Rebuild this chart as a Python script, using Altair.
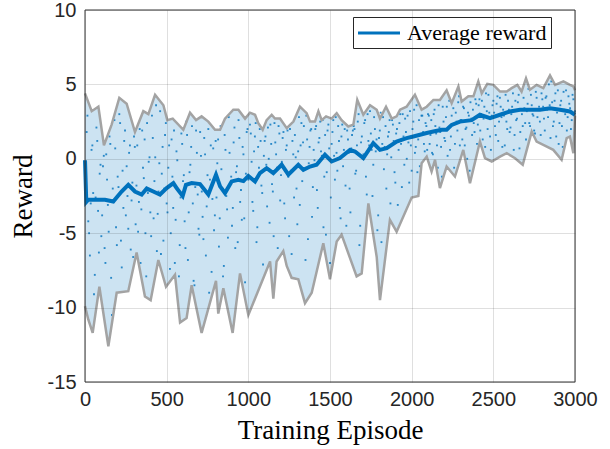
import altair as alt
import pandas as pd

# ---- data ----
upper_ep = [0, 41, 82, 116, 163, 210, 255, 306, 357, 388, 429, 480, 504, 537, 602, 643, 680, 714, 755, 796,
            827, 857, 908, 939, 980, 1010, 1041, 1061, 1088, 1112, 1143, 1163, 1194, 1235, 1276, 1316, 1357,
            1378, 1408, 1429, 1449, 1476, 1510, 1541, 1571, 1612, 1643, 1667, 1704, 1745, 1786, 1806, 1843,
            1878, 1908, 1929, 1969, 2020, 2061, 2092, 2133, 2173, 2214, 2245, 2286, 2306, 2347, 2378, 2408,
            2429, 2463, 2500, 2541, 2582, 2612, 2647, 2673, 2700, 2724, 2765, 2806, 2847, 2878, 2929, 2969,
            2990, 3000]
upper_val = [4.4, 3.2, 3.5, 0.9, 2.3, 4.1, 3.7, 1.8, 3.2, 3.0, 4.3, 3.6, 2.6, 2.7, 1.95, 3.1, 2.6, 2.85, 2.5, 1.95,
             1.95, 2.7, 3.3, 3.3, 2.7, 3.1, 2.96, 2.4, 1.95, 2.6, 2.96, 2.7, 2.7, 2.06, 2.5, 3.5, 3.07,
             2.5, 2.5, 3.2, 2.6, 2.85, 2.7, 3.07, 2.6, 2.17, 2.3, 3.96, 2.96, 3.6, 3.3, 2.7, 3.5,
             2.7, 2.85, 3.3, 3.5, 4.3, 3.3, 3.5, 3.96, 3.96, 4.6, 3.74, 4.86, 3.85, 4.2, 4.2, 5.2,
             4.4, 5.04, 4.97, 4.52, 4.52, 4.75, 4.97, 4.52, 5.4, 4.64, 4.97, 4.75, 5.6, 4.97, 5.2, 4.97,
             4.86, 4.6]

lower_ep = [0, 20, 47, 88, 143, 194, 265, 316, 367, 402, 449, 496, 551, 582, 622, 653, 714, 802, 816, 847,
            904, 949, 1000, 1133, 1153, 1173, 1214, 1235, 1265, 1306, 1347, 1388, 1459, 1500, 1541, 1571,
            1663, 1694, 1735, 1786, 1806, 1867, 1908, 2000, 2041, 2061, 2092, 2122, 2143, 2173, 2214, 2265,
            2316, 2357, 2418, 2449, 2490, 2541, 2582, 2633, 2680, 2735, 2765, 2806, 2867, 2918, 2949, 2969,
            2990, 3000]
lower_val = [-9.9, -10.8, -11.7, -8.6, -12.6, -9.0, -8.9, -6.3, -9.25, -9.5, -6.8, -8.6, -7.8, -11.0, -10.7, -8.5,
             -11.7, -8.2, -10.4, -8.7, -11.7, -7.7, -10.5, -6.9, -9.4, -6.9, -6.2, -7.2, -8.0, -8.1, -9.7, -9.0,
             -5.67, -8.1, -5.56, -5.1, -7.9, -7.7, -3.0, -6.6, -9.5, -4.1, -4.9, -2.6, -2.5, -0.29, 0.15, -0.85,
             -0.07, -1.97, -0.52, -1.19, 0.6, -1.64, 1.16, 0.04, -0.18, 0.15, 0.38, 0.04, -0.4, 1.83, 1.16, 0.94,
             0.6, -0.07, 1.39, 1.5, 0.38, 2.9]

mean_ep = [0, 8, 20, 71, 122, 173, 224, 265, 306, 347, 378, 418, 459, 500, 541, 561, 598, 618, 653, 704, 755,
           802, 827, 857, 898, 939, 970, 1000, 1041, 1071, 1112, 1153, 1204, 1245, 1306, 1337, 1378, 1418, 1469,
           1510, 1561, 1622, 1653, 1704, 1765, 1806, 1847, 1908, 1969, 2010, 2092, 2133, 2184, 2214, 2245, 2296,
           2367, 2418, 2480, 2541, 2602, 2663, 2724, 2786, 2847, 2908, 2969, 3000]
mean_val = [-0.1, -2.9, -2.75, -2.75, -2.75, -2.87, -2.2, -1.75, -2.2, -2.4, -2.0, -2.2, -2.4, -1.97, -1.63, -1.97,
            -2.5, -1.75, -1.63, -1.7, -2.4, -1.07, -1.85, -2.3, -1.52, -1.41, -1.5, -1.15, -1.52, -0.96, -0.63,
            -0.96, -0.4, -1.07, -0.4, -0.74, -0.52, -0.4, 0.27, -0.18, 0.05, 0.6, 0.49, 0.05, 1.05, 0.6, 0.72,
            1.16, 1.39, 1.5, 1.73, 1.83, 1.95, 1.95, 2.28, 2.5, 2.6, 2.96, 2.73, 2.96, 3.18, 3.3, 3.3, 3.3, 3.4,
            3.3, 3.18, 2.96]

# individual episode rewards (sampled, estimated): set A at episodes 10,20,...; set B at 5,15,...
dot_ep_a = list(range(10, 3001, 10))
dot_val_a = [
    1.8, -4.2, -6.5, 0.6, -2.3, -7.8, 2.1, -3.5, -1.0, -5.2,
    -0.5, -6.0, 0.3, -3.1, 1.5, -8.0, -2.0, 2.6, -4.6, -1.2,
    3.0, -5.5, -0.8, 1.2, -3.8, -2.5, 0.4, -6.1, -1.6, 1.5,
    -4.4, 0.9, -2.9, -7.0, 1.9, -1.3, -5.0, 2.4, -0.2, -3.6,
    2.9, -4.0, 0.1, -6.2, -2.2, 3.2, -1.0, -5.5, 1.6, -3.0,
    -0.6, -7.4, 1.3, -3.3, -7.0, 0.5, -2.0, -5.8, 1.7, -1.5,
    -4.2, 2.5, -6.8, -0.9, 0.8, -3.0, -8.5, 1.9, -2.4, -5.1,
    0.2, -3.9, 1.4, -6.5, -1.1, -9.0, 0.9, -2.7, -4.8, 1.2,
    -0.3, -5.9, 2.2, -2.0, -7.2, 0.6, -3.4, 2.8, -1.7, -4.5,
    1.1, -6.0, -0.5, 2.6, -2.9, -4.1, 0.3, -8.3, 1.8, -1.4,
    2.3, -0.2, -3.5, 1.5, -5.6, 0.8, 2.0, -1.8, -7.1, 1.2,
    -0.4, 2.1, -4.3, 1.0, -2.2, 2.4, 0.3, -6.0, 1.7, -1.1,
    1.4, -3.0, 0.6, 1.9, -5.2, -0.8, 1.2, -2.6, 0.1, -4.4,
    2.8, 0.9, -1.5, 2.2, -6.8, 1.3, -0.3, 1.9, -3.9, 0.6,
    2.0, -2.1, 1.1, 2.5, 0.2, -4.6, 1.6, -0.9, 2.3, -7.0,
    1.0, 2.6, -1.4, 0.4, 2.2, -3.3, 1.5, -0.5, 2.0, -4.5,
    1.3, -2.0, 0.7, 1.9, 2.0, -0.8, 2.5, -5.8, 1.1, 0.2,
    2.4, -1.2, 3.0, 0.9, 1.7, -2.5, 2.8, 0.5, -4.8, 1.4,
    3.1, 1.0, -0.7, 2.2, 0.3, 1.8, -3.0, 2.6, 1.2, -1.6,
    2.0, 0.6, 3.0, -1.9, 1.5, 2.7, 0.0, 1.1, 3.2, -0.8,
    2.5, 0.4, 3.6, 1.3, -0.5, 2.9, 1.8, 0.5, 2.2, 3.0,
    1.0, 2.6, 0.3, 3.3, 1.7, -0.6, 2.1, 0.8, 3.5, 1.4,
    2.8, 0.2, 3.9, 1.5, 2.3, -0.6, 3.1, 1.9, 4.2, 2.6,
    1.3, 3.4, 2.0, 0.0, 2.9, 3.8, 1.6, 2.4, 4.0, 1.0,
    3.6, 1.9, 3.9, 2.7, 0.8, 3.2, 4.3, 1.5, 2.9, 3.9,
    2.2, 3.7, 1.2, 4.1, 2.8, 3.3, 0.9, 2.5, 3.9, 1.8,
    3.0, 4.4, 1.6, 2.6, 3.8, 0.7, 4.6, 2.2, 3.4, 1.3,
    3.7, 2.4, 4.3, 3.0, 1.9, 4.5, 2.8, 3.5, 1.6, 4.0,
    2.7, 4.1, 3.3, 5.0, 1.4, 3.8, 2.5, 4.4, 3.1, 1.0,
    3.6, 2.2, 4.5, 3.0, 1.9, 4.2, 3.4, 2.6, 4.0, 3.2,
]
dot_ep_b = list(range(5, 3000, 10))
dot_val_b = [
    -1.8, 2.9, -5.0, -3.0, 0.9, -9.1, -2.6, 1.2, -6.3, -0.4,
    -3.8, 0.2, -7.0, -1.4, -4.9, 1.0, -10.5, -2.9, 0.7, -5.8,
    -1.9, 2.4, -7.3, -3.3, 1.9, -0.5, -4.7, 0.9, -2.8, -6.6,
    0.8, -1.8, -4.9, 2.0, -3.4, -0.6, 1.3, -7.9, -2.3, 0.1,
    -5.2, 1.4, -1.5, 3.6, -3.7, -0.3, -6.4, 0.8, -2.0, 2.4,
    -3.6, 0.9, -5.0, -1.2, 1.9, -4.1, -0.1, -7.9, -2.6, 1.0,
    -1.1, -6.0, 1.6, -3.6, -0.4, 2.2, -8.2, -1.9, 0.4, -4.7,
    1.8, -2.2, -5.4, 0.3, -3.2, 2.0, -1.4, -7.6, 0.7, -3.8,
    -2.6, 1.3, -4.0, -0.7, -7.9, 1.6, -2.5, -5.3, 0.4, -1.2,
    -3.3, 2.1, -0.9, -5.6, 1.4, -2.1, 0.8, -4.0, -1.0, 2.0,
    -1.3, 1.7, -2.9, 0.5, 2.4, -4.6, -0.6, 1.2, -2.3, 0.2,
    1.5, -3.2, 0.0, 2.3, -1.7, -5.2, 1.1, -0.6, 2.2, -2.8,
    -0.2, 1.8, -4.0, 0.9, -1.2, 2.0, -6.4, 0.3, 1.6, -2.0,
    0.5, -3.1, 2.4, 1.1, -0.7, 2.9, -5.4, 0.8, 2.0, -1.9,
    -0.1, 2.2, -3.3, 1.4, 0.5, 2.6, -1.2, -5.1, 1.9, 0.7,
    -2.6, 1.8, 0.2, 2.8, -0.8, 1.2, -4.0, 2.3, 0.6, -1.8,
    1.9, 0.4, -3.6, 1.6, 2.2, -1.0, 0.9, 3.0, -4.5, 1.5,
    0.3, 2.6, -2.4, 1.2, 3.2, 0.6, -0.4, 2.0, 1.3, -3.8,
    1.9, -5.6, 2.8, 0.8, -2.0, 1.5, 2.6, 0.1, 2.3, -0.9,
    1.7, -3.1, 2.4, 1.0, 3.0, -0.4, 1.8, 2.9, -1.6, 0.9,
    2.0, 3.3, 0.8, -0.9, 2.6, 1.6, 2.9, 1.0, 2.4, 0.6,
    2.9, 1.6, 0.4, 3.0, 2.2, 0.9, 3.6, 1.8, -1.2, 2.5,
    1.2, 3.5, 2.1, 0.6, 2.9, 3.4, 1.0, 2.5, 3.8, 0.9,
    2.6, 3.5, 0.9, 2.1, 3.1, -0.8, 2.7, 3.3, 1.8, 3.7,
    2.3, 4.0, 3.0, 1.3, 3.5, 4.4, 2.0, 3.1, 0.6, 3.6,
    3.1, 1.6, 4.2, 2.5, 3.5, 0.8, 2.9, 4.3, 2.0, 3.3,
    2.1, 3.5, 0.6, 3.9, 2.7, 4.3, 1.8, 3.0, 4.1, 2.4,
    3.2, 4.7, 2.2, 3.6, 2.9, 1.7, 4.1, 3.3, 2.5, 4.4,
    3.5, 1.9, 4.2, 2.8, 3.6, 5.2, 2.2, 3.9, 1.5, 4.6,
    2.4, 3.9, 0.8, 3.3, 4.6, 2.8, 3.7, 2.0, 4.3, 3.0,
]

x_ticks = [0, 500, 1000, 1500, 2000, 2500, 3000]
y_ticks = [-15, -10, -5, 0, 5, 10]
series_name = "Average reward"

upper_df = pd.DataFrame({"ep": upper_ep, "r": upper_val})
lower_df = pd.DataFrame({"ep": lower_ep, "r": lower_val})
mean_df = pd.DataFrame({"ep": mean_ep, "r": mean_val, "s": series_name})
dot_df = pd.DataFrame({"ep": dot_ep_a + dot_ep_b, "r": dot_val_a + dot_val_b})

W, H = 490, 372
xs = alt.Scale(domain=[0, 3000], nice=False)
ys = alt.Scale(domain=[-15, 10], nice=False)
X = alt.X("ep:Q", scale=xs,
          axis=alt.Axis(values=x_ticks, title="Training Episode", labelPadding=7, labelFlush=False,
                        labelExpr="toString(datum.value)", titlePadding=8, zindex=1))
Y = alt.Y("r:Q", scale=ys,
          axis=alt.Axis(values=y_ticks, title="Reward", labelPadding=9, titlePadding=10,
                        labelExpr="toString(datum.value)", zindex=1))

band_top = alt.Chart(upper_df).mark_area(color="#cce3f2", opacity=1).encode(x=X, y=Y, y2=alt.datum(-15))
band_bot = alt.Chart(lower_df).mark_area(color="#ffffff", opacity=1).encode(x=X, y=Y, y2=alt.datum(-15))
dots = alt.Chart(dot_df).mark_square(size=3.5, color="#0072BD", opacity=0.8).encode(x=X, y=Y)
edge_top = alt.Chart(upper_df).mark_line(color="#a3a3a3", strokeWidth=2.5).encode(x=X, y=Y)
edge_bot = alt.Chart(lower_df).mark_line(color="#a3a3a3", strokeWidth=2.5).encode(x=X, y=Y)
mean_line = alt.Chart(mean_df).mark_line(strokeWidth=4).encode(
    x=X, y=Y,
    color=alt.Color("s:N", scale=alt.Scale(domain=[series_name], range=["#0072BD"]),
                    legend=alt.Legend(title=None, orient="none", legendX=268, legendY=7)))
frame = alt.Chart(pd.DataFrame({"k": [0]})).mark_rect(filled=False, stroke="#333333", strokeWidth=1).encode(
    x=alt.value(0), x2=alt.value(W), y=alt.value(0), y2=alt.value(H))

chart = alt.layer(band_top, band_bot, dots, edge_top, edge_bot, mean_line, frame).properties(
    width=W, height=H,
    autosize=alt.AutoSizeParams(type="none"),
    padding={"left": 85, "top": 10, "right": 35, "bottom": 67},
).configure_view(stroke=None).configure_axis(
    labelFont="Liberation Sans", labelFontSize=20, labelColor="#262626",
    ticks=False, tickSize=0, domain=False, grid=True, gridColor="#262626", gridOpacity=0.15,
    titleFont="Liberation Serif", titleFontSize=27, titleFontWeight="normal", titleColor="#000000",
).configure_legend(
    strokeColor="#262626", fillColor="#ffffff", padding=4, symbolType="M-2,0H2",
    symbolSize=441, symbolOffset=10, symbolStrokeWidth=3, labelFont="Liberation Serif", labelFontSize=22,
    labelColor="#000000", labelOffset=16, cornerRadius=0,
)

chart.save("out.html", embed_options={"renderer": "svg", "actions": False})
